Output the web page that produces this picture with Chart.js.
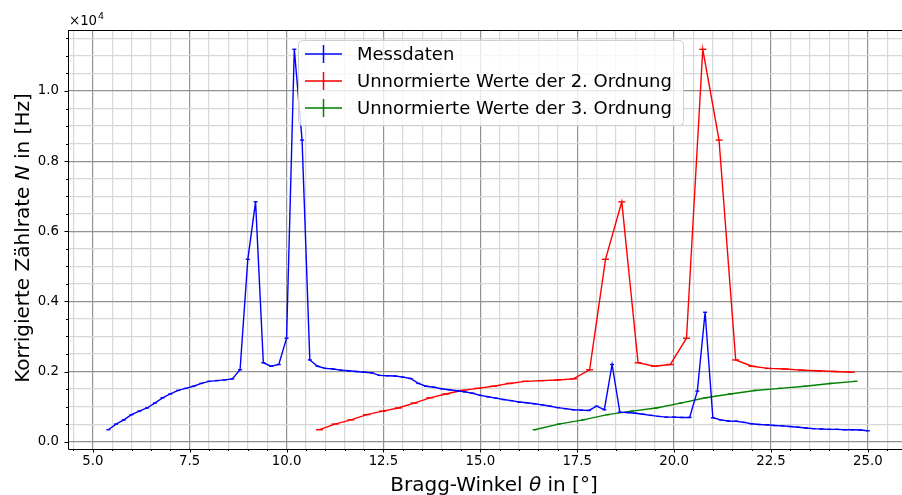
<!DOCTYPE html>
<html>
<head>
<meta charset="utf-8">
<script src="https://cdn.jsdelivr.net/npm/chart.js@4"></script>
<style>
    html, body { margin: 0; padding: 0; background: #ffffff; overflow: hidden; }
    #wrap { width: 915px; height: 495px; position: relative; }
</style>
</head>
<body>
<div id="wrap"><canvas id="braggChart"></canvas></div>
<script>
// Messdaten (Bragg-Winkel in Grad, Zählrate in Hz)
const thetaMess = [
    5.4, 5.6, 5.8, 6.0, 6.2, 6.4, 6.6, 6.8, 7.0, 7.2, 7.4, 7.6, 7.8, 8.0, 8.2, 8.4, 8.6, 8.8,
    9.0, 9.2, 9.4, 9.6, 9.8, 10.0, 10.2, 10.4, 10.6, 10.8, 11.0, 11.2, 11.4, 11.6, 11.8, 12.0,
    12.2, 12.4, 12.6, 12.8, 13.0, 13.2, 13.4, 13.6, 13.8, 14.0, 14.2, 14.4, 14.6, 14.8, 15.0,
    15.2, 15.4, 15.6, 15.8, 16.0, 16.2, 16.4, 16.6, 16.8, 17.0, 17.2, 17.4, 17.6, 17.8, 18.0,
    18.2, 18.4, 18.6, 18.8, 19.0, 19.2, 19.4, 19.6, 19.8, 20.0, 20.2, 20.4, 20.6, 20.8, 21.0,
    21.2, 21.4, 21.6, 21.8, 22.0, 22.2, 22.4, 22.6, 22.8, 23.0, 23.2, 23.4, 23.6, 23.8, 24.0,
    24.2, 24.4, 24.6, 24.8, 25.0
];
const countsMess = [
    340, 500, 620, 770, 870, 960, 1100, 1250, 1360, 1460, 1520, 1580, 1660, 1720, 1740, 1760, 1790, 2050,
    5200, 6840, 2250, 2150, 2200, 2950, 11190, 8600, 2330, 2150, 2090, 2070, 2040, 2020, 2000, 1980,
    1960, 1890, 1880, 1870, 1840, 1800, 1660, 1580, 1550, 1510, 1480, 1450, 1420, 1380, 1320,
    1280, 1240, 1200, 1170, 1130, 1110, 1080, 1050, 1010, 970, 940, 910, 900, 890, 1010,
    910, 2200, 840, 830, 810, 780, 750, 720, 700, 700, 690, 690, 1440, 3690, 680,
    620, 590, 580, 550, 510, 490, 480, 460, 450, 430, 410, 390, 370, 360, 350,
    350, 340, 340, 330, 310
];

// Unnormierte Werte der 2. Ordnung
const thetaOrd2 = [
    10.85, 11.25, 11.66, 12.07, 12.48, 12.88, 13.29, 13.70, 14.11, 14.52, 14.93, 15.34, 15.75,
    16.16, 16.57, 16.99, 17.40, 17.82, 18.23, 18.65, 19.07, 19.49, 19.90, 20.32, 20.74, 21.16,
    21.59, 22.01, 22.43, 22.86, 23.29, 23.71, 24.14, 24.57
];
const countsOrd2 = [
    340, 500, 620, 770, 870, 960, 1100, 1250, 1360, 1460, 1520, 1580, 1660,
    1720, 1740, 1760, 1790, 2050, 5200, 6840, 2250, 2150, 2200, 2950, 11190, 8600,
    2330, 2150, 2090, 2070, 2040, 2020, 2000, 1980
];

// Unnormierte Werte der 3. Ordnung
const thetaOrd3 = [
    16.40, 17.02, 17.65, 18.28, 18.91, 19.54, 20.17, 20.81, 21.45, 22.09, 22.73, 23.38, 24.03, 24.68
];
const countsOrd3 = [
    340, 500, 620, 770, 870, 960, 1100, 1250, 1360, 1460, 1520, 1580, 1660, 1720
];

const xMajorStep = 2.5;
const yMajorStep = 2000;

const legendLabels = [
    "Messdaten",
    "Unnormierte Werte der 2. Ordnung",
    "Unnormierte Werte der 3. Ordnung"
];
const seriesColors = ["#0000ff", "#ff0000", "#008000"];

const FONT = "'DejaVu Sans', 'Liberation Sans', sans-serif";
const TICK_SIZE = 13.3;
const TITLE_SIZE = 20;

function toPoints(xs, ys) {
    return xs.map((x, i) => ({ x: x, y: ys[i] }));
}

function isMajor(value, step) {
    return Math.abs(value / step - Math.round(value / step)) < 1e-6;
}

function drawParts(ctx, parts, cx, baseline) {
    let total = 0;
    parts.forEach(p => {
        ctx.font = (p.italic ? "italic " : "") + TITLE_SIZE + "px " + FONT;
        p.width = ctx.measureText(p.text).width;
        total += p.width;
    });
    let x = cx - total / 2;
    ctx.textAlign = "left";
    parts.forEach(p => {
        ctx.font = (p.italic ? "italic " : "") + TITLE_SIZE + "px " + FONT;
        ctx.fillText(p.text, x, baseline);
        x += p.width;
    });
}

// Rahmen, Ticks, Achsentitel und Legende im matplotlib-Stil
const decorPlugin = {
    id: "decor",
    afterDatasetsDraw(chart) {
        const ctx = chart.ctx;

        // Legende
        const boxX = 298, boxY = 40, boxW = 385, boxH = 85;
        ctx.save();
        ctx.beginPath();
        ctx.roundRect(boxX + 0.5, boxY + 0.5, boxW, boxH, 4);
        ctx.fillStyle = "rgba(255,255,255,0.8)";
        ctx.fill();
        ctx.strokeStyle = "#d0d0d0";
        ctx.lineWidth = 1;
        ctx.stroke();

        legendLabels.forEach((label, i) => {
            const rowY = 54 + i * 27;
            ctx.strokeStyle = seriesColors[i];
            ctx.lineWidth = 1.5;
            ctx.beginPath();
            ctx.moveTo(305, rowY);
            ctx.lineTo(342, rowY);
            ctx.moveTo(323.5, rowY - 9);
            ctx.lineTo(323.5, rowY + 9);
            ctx.stroke();

            ctx.fillStyle = "#000000";
            ctx.font = "18px " + FONT;
            ctx.textBaseline = "middle";
            ctx.textAlign = "left";
            ctx.fillText(label, 357, rowY + 1);
        });
        ctx.restore();
    },
    afterDraw(chart) {
        const ctx = chart.ctx;
        const area = chart.chartArea;
        const xScale = chart.scales.x;
        const yScale = chart.scales.y;

        ctx.save();
        ctx.strokeStyle = "#000000";
        ctx.lineWidth = 1;

        // Spines (rechter Rand liegt ausserhalb des Fensters)
        ctx.beginPath();
        ctx.moveTo(area.left + 0.5, area.top + 0.5);
        ctx.lineTo(area.right, area.top + 0.5);
        ctx.moveTo(area.left + 0.5, area.top);
        ctx.lineTo(area.left + 0.5, area.bottom + 0.5);
        ctx.lineTo(area.right, area.bottom + 0.5);
        ctx.stroke();

        // Tick-Striche
        ctx.beginPath();
        xScale.ticks.forEach(t => {
            const px = Math.round(xScale.getPixelForValue(t.value)) + 0.5;
            const len = isMajor(t.value, xMajorStep) ? 3.5 : 2;
            ctx.moveTo(px, area.bottom);
            ctx.lineTo(px, area.bottom + len);
        });
        yScale.ticks.forEach(t => {
            const py = Math.round(yScale.getPixelForValue(t.value)) + 0.5;
            const len = isMajor(t.value, yMajorStep) ? 3.5 : 2;
            ctx.moveTo(area.left, py);
            ctx.lineTo(area.left - len, py);
        });
        ctx.stroke();

        ctx.fillStyle = "#000000";
        ctx.textBaseline = "alphabetic";

        // Skalenfaktor
        ctx.font = TICK_SIZE + "px " + FONT;
        ctx.textAlign = "left";
        ctx.fillText("\u00d710", 69, 25);
        const w10 = ctx.measureText("\u00d710").width;
        ctx.font = "9.5px " + FONT;
        ctx.fillText("4", 69 + w10 + 1, 19);

        // x-Achsentitel
        drawParts(ctx, [
            { text: "Bragg-Winkel ", italic: false },
            { text: "\u03b8", italic: true },
            { text: " in [\u00b0]", italic: false }
        ], 494, 491);

        // y-Achsentitel
        ctx.save();
        ctx.translate(29, 238);
        ctx.rotate(-Math.PI / 2);
        drawParts(ctx, [
            { text: "Korrigierte Z\u00e4hlrate ", italic: false },
            { text: "N", italic: true },
            { text: " in [Hz]", italic: false }
        ], 0, 0);
        ctx.restore();

        ctx.restore();
    }
};

function makeDataset(label, xs, ys, color, capRadius) {
    return {
        label: label,
        data: toPoints(xs, ys),
        borderColor: color,
        backgroundColor: color,
        borderWidth: 1.4,
        pointStyle: "line",
        pointRadius: capRadius,
        pointBorderWidth: 1.4,
        pointHoverRadius: capRadius,
        tension: 0,
        fill: false
    };
}

function createBraggChart() {
    const ctx = document.getElementById("braggChart");

    new Chart(ctx, {
        type: "line",
        data: {
            datasets: [
                makeDataset(legendLabels[0], thetaMess, countsMess, seriesColors[0], 2),
                makeDataset(legendLabels[1], thetaOrd2, countsOrd2, seriesColors[1], 3.5),
                makeDataset(legendLabels[2], thetaOrd3, countsOrd3, seriesColors[2], 2)
            ]
        },
        options: {
            responsive: true,
            maintainAspectRatio: false,
            devicePixelRatio: 1,
            animation: false,
            events: [],
            layout: {
                padding: { left: 0, top: 30, right: 0, bottom: 0 }
            },
            plugins: {
                legend: { display: false },
                tooltip: { enabled: false }
            },
            scales: {
                x: {
                    type: "linear",
                    min: 4.36,
                    max: 26.09,
                    afterBuildTicks: scale => {
                        const ticks = [];
                        for (let k = 9; k <= 52; k++) ticks.push({ value: k / 2 });
                        scale.ticks = ticks;
                    },
                    afterFit: scale => {
                        scale.height = 46;
                        scale.paddingLeft = 0;
                        scale.paddingRight = 0;
                    },
                    ticks: {
                        autoSkip: false,
                        maxRotation: 0,
                        padding: 5,
                        color: "#000000",
                        font: { family: FONT, size: TICK_SIZE },
                        callback: value => isMajor(value, xMajorStep) ? value.toFixed(1) : ""
                    },
                    grid: {
                        drawTicks: false,
                        lineWidth: 1.2,
                        color: c => isMajor(c.tick.value, xMajorStep) ? "#929292" : "#d8d8d8"
                    },
                    border: { display: false }
                },
                y: {
                    min: -210,
                    max: 11740,
                    afterBuildTicks: scale => {
                        const ticks = [];
                        for (let v = 0; v <= 11500; v += 500) ticks.push({ value: v });
                        scale.ticks = ticks;
                    },
                    afterFit: scale => {
                        scale.width = 68;
                        scale.paddingTop = 0;
                        scale.paddingBottom = 0;
                    },
                    ticks: {
                        autoSkip: false,
                        padding: 9,
                        color: "#000000",
                        font: { family: FONT, size: TICK_SIZE },
                        callback: value => isMajor(value, yMajorStep) ? (value / 10000).toFixed(1) : ""
                    },
                    grid: {
                        drawTicks: false,
                        lineWidth: 1.2,
                        color: c => isMajor(c.tick.value, yMajorStep) ? "#929292" : "#d8d8d8"
                    },
                    border: { display: false }
                }
            }
        },
        plugins: [decorPlugin]
    });
}

createBraggChart();
</script>
</body>
</html>
